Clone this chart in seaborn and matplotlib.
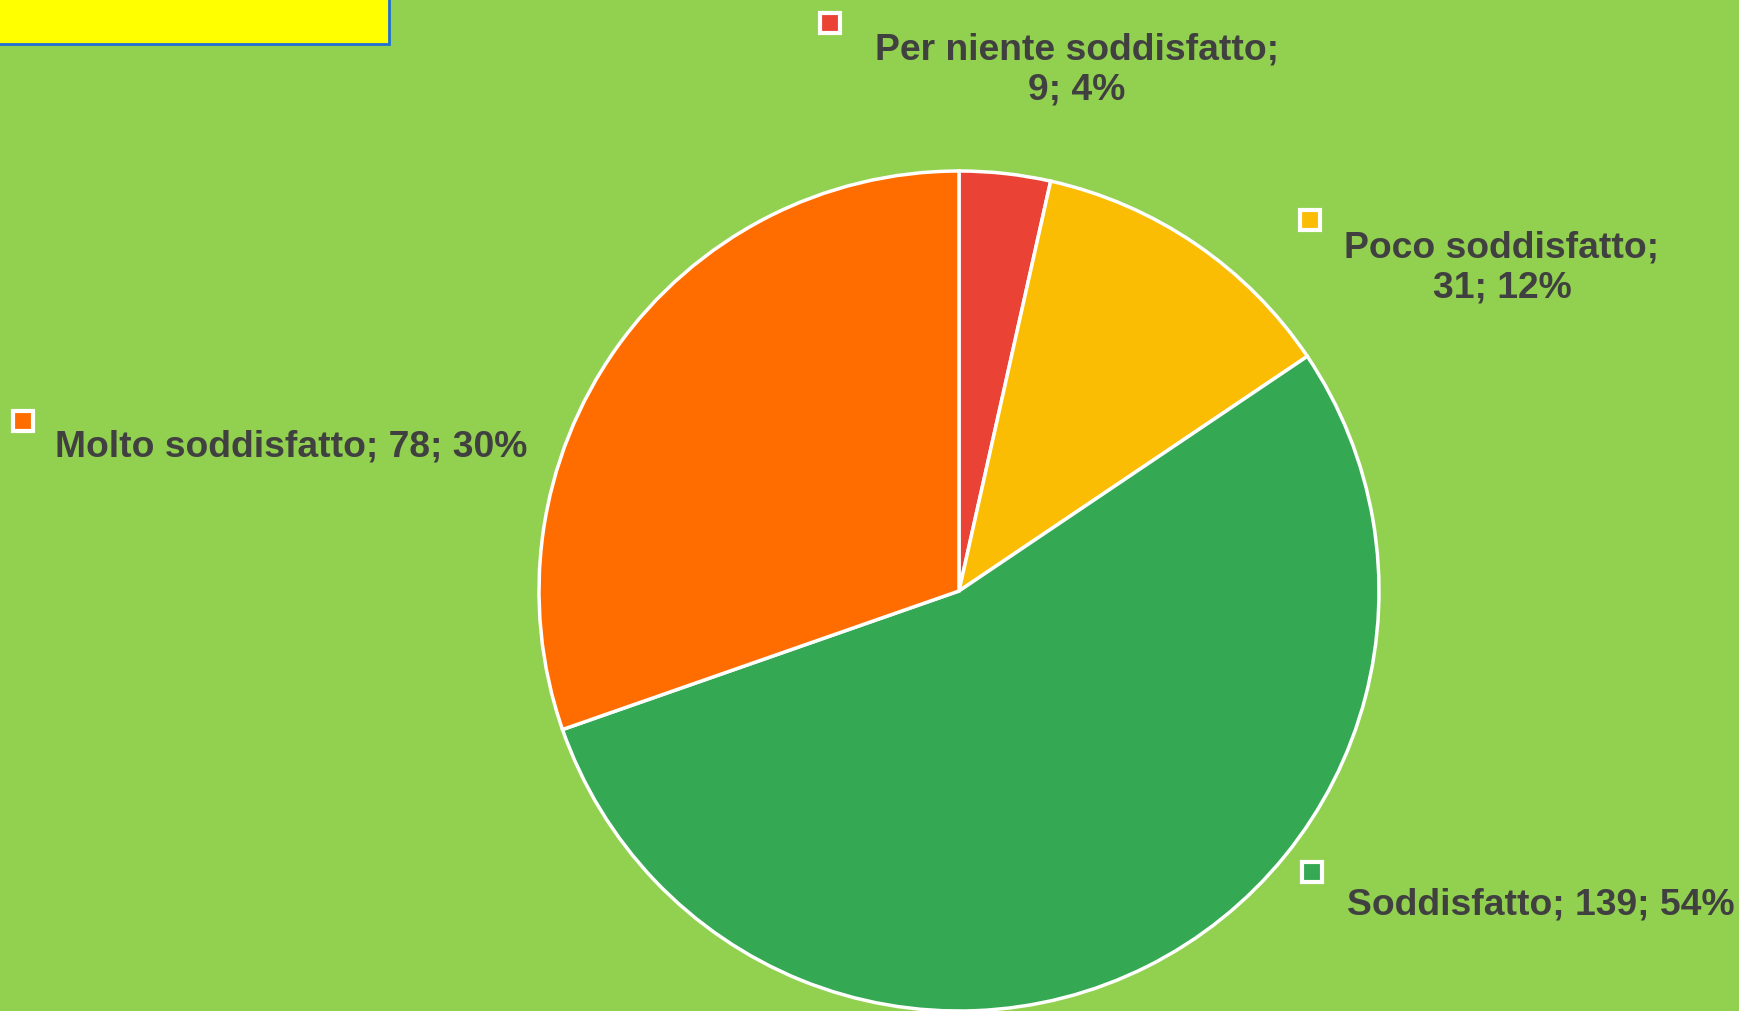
import matplotlib
matplotlib.use("Agg")
import matplotlib.pyplot as plt
import seaborn as sns
from matplotlib.patches import Rectangle

categories = ["Per niente soddisfatto", "Poco soddisfatto", "Soddisfatto", "Molto soddisfatto"]
counts = [9, 31, 139, 78]
percents = ["4%", "12%", "54%", "30%"]
colors = ["#EA4335", "#FBBC04", "#34A853", "#FF6D01"]

sns.set_theme(style="white")
plt.rcParams["font.family"] = ["Liberation Sans", "DejaVu Sans"]

W, H = 1739, 1011
BG = "#92D050"
fig = plt.figure(figsize=(W / 100, H / 100), dpi=100, facecolor=BG)
ax = fig.add_axes([0, 0, 1, 1])
ax.set_facecolor(BG)

cx, cy, r = 959, H - 591, 420
ax.pie(counts, colors=colors, startangle=90, counterclock=False,
       center=(cx, cy), radius=r,
       wedgeprops=dict(edgecolor="white", linewidth=2.5))
ax.set_xlim(0, W)
ax.set_ylim(0, H)
ax.set_aspect("auto")
ax.axis("off")

# yellow box top-left
ax.add_patch(Rectangle((-5, H - 44), 394, 60, facecolor="#FFFF00",
                       edgecolor="#1F6FD6", linewidth=2, zorder=5))

txt_color = "#404040"
fs = 26.8
# label layout: (marker x, marker y, text x, text y, ha, text)
layout = [
    (830, 23, 1077, 70, "center", f"{categories[0]};\n{counts[0]}; {percents[0]}"),
    (1310, 220, 1502, 268, "center", f"{categories[1]};\n{counts[1]}; {percents[1]}"),
    (1312, 872, 1347, 905, "left", f"{categories[2]}; {counts[2]}; {percents[2]}"),
    (23, 421, 55, 447, "left", f"{categories[3]}; {counts[3]}; {percents[3]}"),
]
for (mx, my, tx, ty, ha, t), c in zip(layout, colors):
    ax.add_patch(Rectangle((mx - 10, H - my - 10), 20, 20, facecolor=c,
                           edgecolor="white", linewidth=3, zorder=6))
    ax.text(tx, H - ty, t, ha=ha, va="center", fontsize=fs, fontweight="bold",
            color=txt_color, linespacing=1.2, zorder=7)

fig.savefig("out.png", dpi=100, facecolor=BG)
